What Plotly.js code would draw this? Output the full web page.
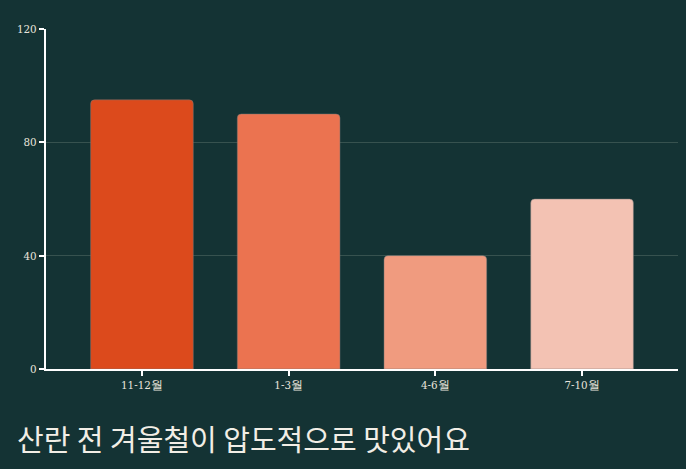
<!DOCTYPE html>
<html>
<head>
<meta charset="utf-8">
<script src="https://cdn.plot.ly/plotly-3.0.1.min.js"></script>
<style>
  html, body { margin: 0; padding: 0; background: #143334; }
  #chart { width: 686px; height: 469px; }
</style>
</head>
<body>
<div id="chart"></div>
<script>
// data
const periods = ['11-12월', '1-3월', '4-6월', '7-10월'];
const scores = [95, 90, 40, 60];
const barColors = ['#dc4a1c', '#eb7350', '#f09b7f', '#f3c2b3'];
const yTicks = [0, 40, 80, 120];

const trace = {
  type: 'bar',
  x: periods,
  y: scores,
  width: 0.7,
  marker: {
    color: barColors,
    line: { color: 'rgba(120,120,120,0.6)', width: 0.8 },
    cornerradius: 4
  },
  hoverinfo: 'x+y'
};

const tickFont = { family: '"DejaVu Serif Condensed", "DejaVu Serif", serif', size: 11.5, color: '#e8e4dc' };

const layout = {
  width: 686,
  height: 469,
  margin: { l: 46, r: 8, t: 29, b: 100 },
  paper_bgcolor: '#143334',
  plot_bgcolor: '#143334',
  showlegend: false,
  bargap: 0.3,
  title: {
    text: '산란 전 겨울철이 압도적으로 맛있어요',
    font: { family: '"Noto Sans CJK KR", sans-serif', size: 29, color: '#f2eee6' },
    xref: 'container', x: 17 / 686, xanchor: 'left',
    yref: 'container', y: (469 - 441) / 469, yanchor: 'middle'
  },
  xaxis: {
    type: 'category',
    range: [-0.654, 3.654],
    showline: true,
    linecolor: '#ffffff',
    linewidth: 1.5,
    ticks: 'outside',
    ticklen: 5,
    tickwidth: 2,
    tickcolor: '#ffffff',
    tickfont: tickFont,
    showgrid: false,
    zeroline: false
  },
  yaxis: {
    range: [0, 120],
    tickvals: yTicks,
    showline: true,
    linecolor: '#ffffff',
    linewidth: 2,
    ticks: 'outside',
    ticklen: 5,
    tickwidth: 2,
    tickcolor: '#ffffff',
    tickfont: tickFont,
    gridcolor: '#37524f',
    gridwidth: 1,
    zeroline: false
  }
};

Plotly.newPlot('chart', [trace], layout, { displayModeBar: false, staticPlot: true });
</script>
</body>
</html>
